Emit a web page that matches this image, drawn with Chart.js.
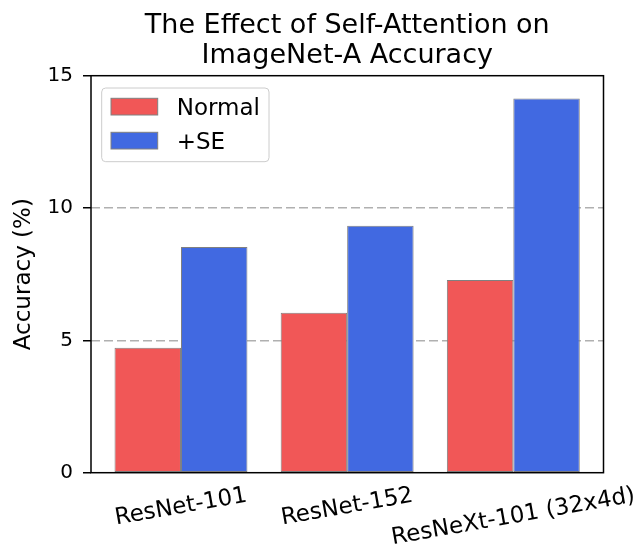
<!DOCTYPE html>
<html>
<head>
<meta charset="utf-8">
<script src="https://cdn.jsdelivr.net/npm/chart.js@4.4.1/dist/chart.umd.min.js"></script>
<style>
  html, body { margin: 0; padding: 0; background: #fff; }
  #chart { display: block; }
</style>
</head>
<body>
<canvas id="chart" width="636" height="550"></canvas>
<script>
// data
const models = ["ResNet-101", "ResNet-152", "ResNeXt-101 (32x4d)"];
const normalAcc = [4.72, 6.04, 7.28];
const seAcc = [8.53, 9.33, 14.14];
const seriesNames = ["Normal", "+SE"];
const yTicks = [0, 5, 10, 15];
const dashedAt = [5, 10];
const titleLines = ["The Effect of Self-Attention on", "ImageNet-A Accuracy"];
const yTitle = "Accuracy (%)";

const RED = "#f15757";
const BLUE = "#4169e1";
const EDGE = "#808080";
const FONT = "'DejaVu Sans', sans-serif";

function points(vals) {
  return vals.map(function (v, i) { return { x: i, y: v }; });
}

// frame, title, axis title, slanted x labels and legend box
const extras = {
  id: "extras",
  afterDatasetsDraw: function (chart) {
    const a = chart.chartArea, ctx = chart.ctx;
    ctx.save();
    ctx.strokeStyle = "#000";
    ctx.lineWidth = 1.5;
    ctx.strokeRect(a.left, a.top, a.right - a.left, a.bottom - a.top);
    ctx.restore();
  },
  afterDraw: function (chart) {
    const a = chart.chartArea, ctx = chart.ctx;
    const xs = chart.scales.x;
    ctx.save();
    ctx.fillStyle = "#000";

    ctx.font = "27px " + FONT;
    ctx.textAlign = "center";
    ctx.textBaseline = "alphabetic";
    const cx = (a.left + a.right) / 2;
    ctx.fillText(titleLines[0], cx, 33);
    ctx.fillText(titleLines[1], cx, 63);

    ctx.font = "23px " + FONT;
    ctx.save();
    ctx.translate(24, (a.top + a.bottom) / 2);
    ctx.rotate(-Math.PI / 2);
    ctx.textBaseline = "middle";
    ctx.fillText(yTitle, 0, 0);
    ctx.restore();

    // x labels rotated 10 degrees, box top hanging under the axis
    const ang = 10 * Math.PI / 180;
    const h = 24;
    ctx.textBaseline = "middle";
    models.forEach(function (m, i) {
      const w = ctx.measureText(m).width;
      const boxH = w * Math.sin(ang) + h * Math.cos(ang);
      ctx.save();
      ctx.translate(xs.getPixelForValue(i), a.bottom + 11 + boxH / 2);
      ctx.rotate(-ang);
      ctx.fillText(m, 0, 0);
      ctx.restore();
    });

    // legend
    const lx = a.left + 10.7, ly = a.top + 12.3;
    ctx.beginPath();
    ctx.roundRect(lx, ly, 167.3, 73.7, 4);
    ctx.fillStyle = "rgba(255,255,255,0.8)";
    ctx.fill();
    ctx.strokeStyle = "#cccccc";
    ctx.lineWidth = 1;
    ctx.stroke();
    const colors = [RED, BLUE];
    ctx.textAlign = "left";
    ctx.textBaseline = "alphabetic";
    seriesNames.forEach(function (name, i) {
      const sy = a.top + 22.6 + i * 34;
      ctx.fillStyle = colors[i];
      ctx.fillRect(a.left + 20, sy, 46.7, 16.7);
      ctx.strokeStyle = EDGE;
      ctx.strokeRect(a.left + 20, sy, 46.7, 16.7);
      ctx.fillStyle = "#000";
      ctx.fillText(name, a.left + 85.7, sy + 16.8);
    });
    ctx.restore();
  }
};

const chart = new Chart(document.getElementById("chart"), {
  type: "bar",
  data: {
    datasets: [
      {
        label: seriesNames[0],
        data: points(normalAcc),
        backgroundColor: RED,
        borderColor: EDGE,
        borderWidth: 1,
        borderSkipped: false,
        categoryPercentage: 0.8,
        barPercentage: 1
      },
      {
        label: seriesNames[1],
        data: points(seAcc),
        backgroundColor: BLUE,
        borderColor: EDGE,
        borderWidth: 1,
        borderSkipped: false,
        categoryPercentage: 0.8,
        barPercentage: 1
      }
    ]
  },
  options: {
    responsive: false,
    animation: false,
    devicePixelRatio: 1,
    layout: { padding: { top: 75.7, right: 32.5, left: 0, bottom: 0 } },
    plugins: {
      legend: { display: false },
      title: { display: false },
      tooltip: { enabled: false }
    },
    scales: {
      x: {
        type: "linear",
        min: -0.5415,
        max: 2.5427,
        offset: false,
        afterBuildTicks: function (s) {
          s.ticks = models.map(function (m, i) { return { value: i }; });
        },
        afterFit: function (s) { s.height = 77.3; },
        ticks: { display: false },
        grid: { display: false },
        border: { display: false }
      },
      y: {
        min: 0,
        max: 15,
        afterBuildTicks: function (s) {
          s.ticks = yTicks.map(function (v) { return { value: v }; });
        },
        afterFit: function (s) { s.width = 91; },
        ticks: {
          color: "#000",
          padding: 10,
          font: { family: FONT, size: 20 }
        },
        grid: {
          color: function (c) {
            return c.tick && dashedAt.indexOf(c.tick.value) >= 0 ? "#b0b0b0" : "rgba(0,0,0,0)";
          },
          lineWidth: 1.5,
          tickColor: "#000",
          tickWidth: 1.5,
          tickLength: 8
        },
        border: { display: false, dash: [9, 4] }
      }
    }
  },
  plugins: [extras]
});
</script>
</body>
</html>
